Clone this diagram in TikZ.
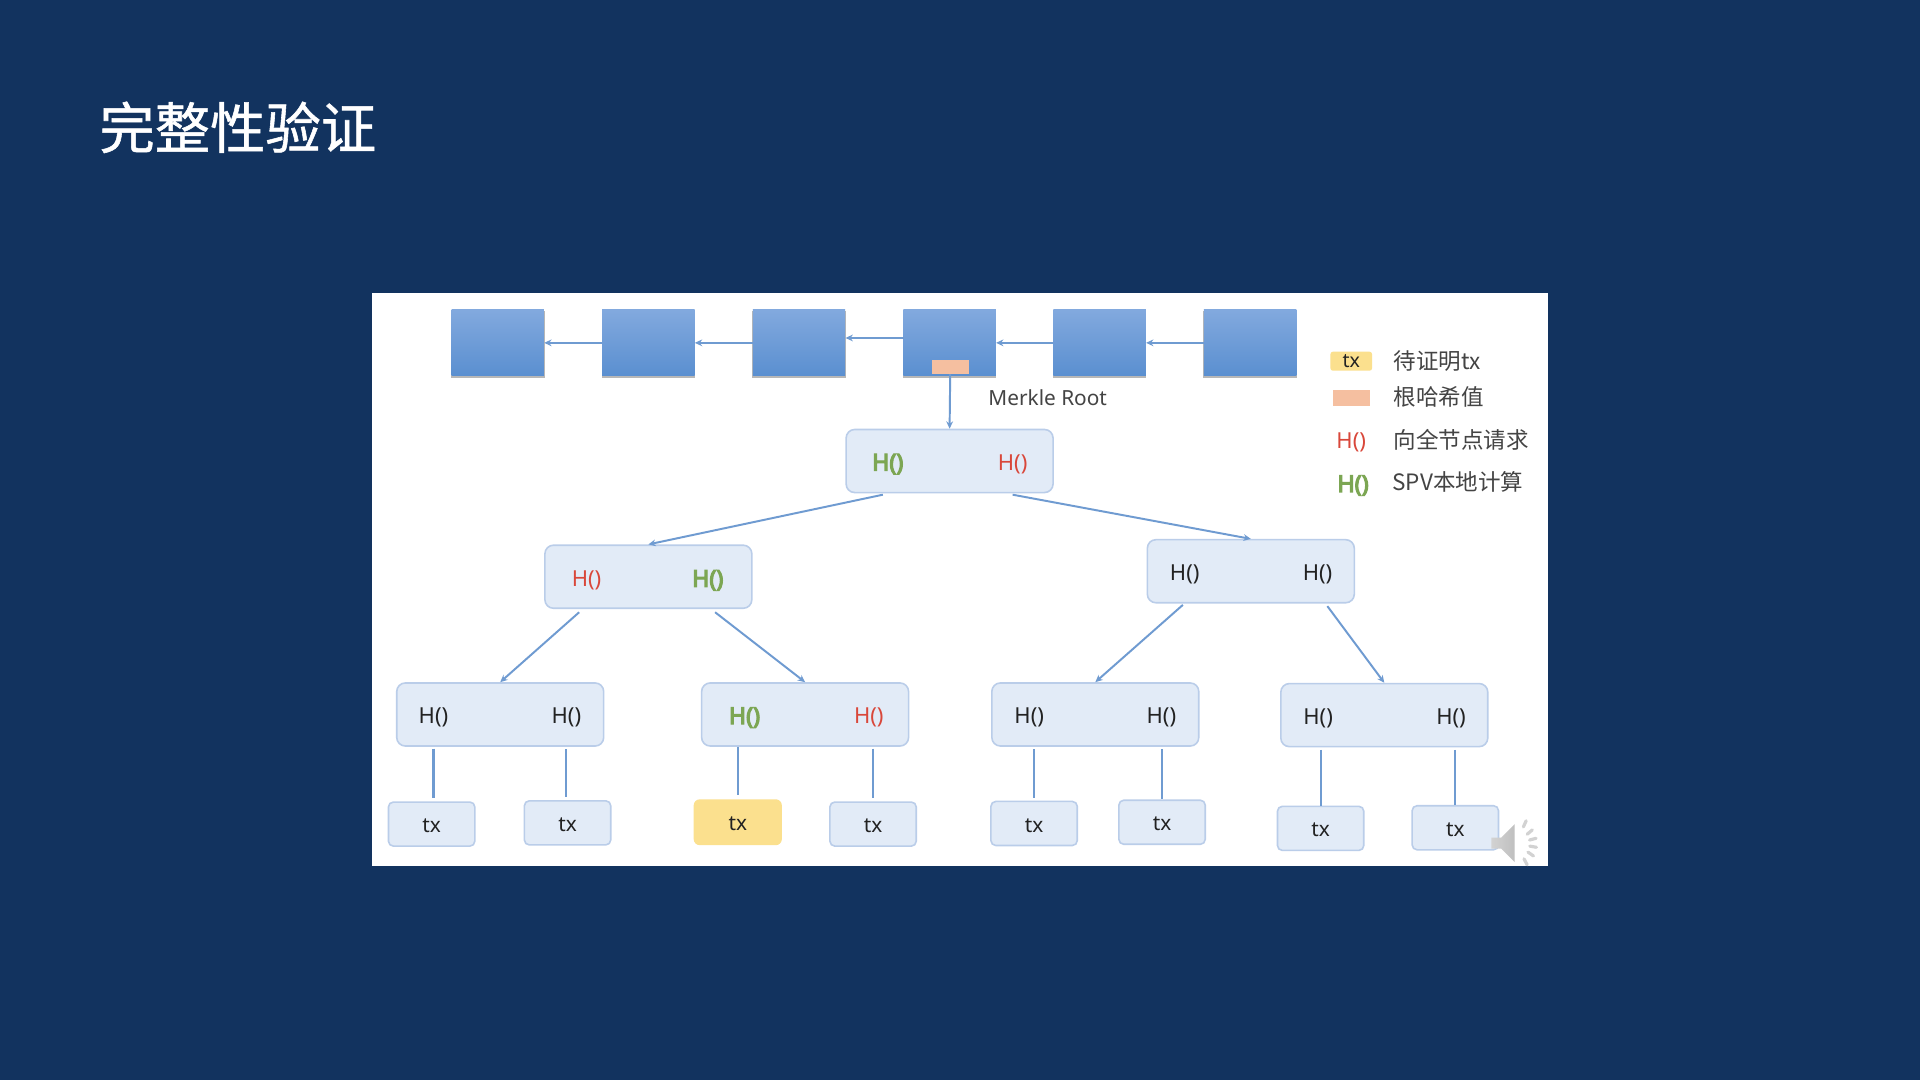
\documentclass[tikz,border=0pt]{standalone}
\usepackage{fontspec}
\setmainfont{Noto Sans}
\newfontfamily\cjk{Noto Sans CJK SC}
\newfontfamily\cjktitle[FakeBold=1]{Noto Sans CJK SC}
\newfontfamily\hbold[FakeBold=5]{Noto Sans}
\usetikzlibrary{arrows.meta,shadows}
\definecolor{bgnavy}{HTML}{12335F}
\definecolor{boxfill}{HTML}{E2EBF7}
\definecolor{boxline}{HTML}{BACDE9}
\definecolor{linkblue}{HTML}{6F9BD1}
\definecolor{hred}{HTML}{D9473A}
\definecolor{hgreen}{HTML}{7CA653}
\definecolor{txyellow}{HTML}{FBE08E}
\definecolor{rootorange}{HTML}{F5BFA0}
\definecolor{inktext}{HTML}{222222}
\definecolor{labeltext}{HTML}{444444}
\definecolor{blockA}{HTML}{82A9DE}
\definecolor{blockB}{HTML}{5A8FD0}
\tikzset{
  x=1pt,y=-1pt,
  chainblock/.style={rectangle,minimum width=75.5pt,minimum height=54pt,inner sep=0,
    top color=blockA,bottom color=blockB,
    general shadow={shadow yshift=-1.2pt,shadow scale=1.012,fill=black!70,opacity=.4}},
  hashbox/.style={rectangle,rounded corners=7pt,draw=boxline,line width=1.3pt,fill=boxfill,
    minimum width=169pt,minimum height=51.5pt,inner sep=0},
  txbox/.style={rectangle,rounded corners=4pt,draw=boxline,line width=1.3pt,fill=boxfill,
    minimum width=70.5pt,minimum height=36pt,inner sep=0,text=inktext,
    text height=14pt,text depth=0pt,font=\fontsize{17}{20}\selectfont},
  txgoal/.style={txbox,draw=none,fill=txyellow,rounded corners=5pt,minimum width=72pt,minimum height=37.5pt},
  hblack/.style={inner sep=0,yshift=-2pt,text=inktext,font=\fontsize{18}{22}\selectfont},
  hredtxt/.style={inner sep=0,yshift=-2pt,text=hred,font=\fontsize{18}{22}\selectfont},
  hgreentxt/.style={inner sep=0,yshift=-2pt,text=hgreen,font=\fontsize{19}{22}\selectfont\hbold},
  legendtxt/.style={inner sep=0,anchor=west,yshift=-0.5pt,text=labeltext,font=\fontsize{18.4}{22}\selectfont\cjk},
  arrowlink/.style={draw=linkblue,line width=1.6pt,-{Stealth[length=6pt,width=5.5pt]}},
  stem/.style={draw=linkblue,line width=1.7pt},
}
\begin{document}
\begin{tikzpicture}
\useasboundingbox (0,0) rectangle (1568,882);
\fill[bgnavy] (0,0) rectangle (1568,882);
\fill[white] (304,239) rectangle (1264,707);
\node[inner sep=0,anchor=west,text=white,font=\fontsize{45.2}{50}\selectfont\cjktitle] (title) at (81,104) {完整性验证};

% chain
\node[chainblock] (b1) at (406.5,280) {};
\node[chainblock] (b2) at (529.5,280) {};
\node[chainblock] (b3) at (652.5,280) {};
\node[chainblock] (b4) at (775.5,280) {};
\node[chainblock] (b5) at (898,280) {};
\node[chainblock] (b6) at (1021,280) {};
\node[rectangle,fill=rootorange,minimum width=30pt,minimum height=11.5pt,inner sep=0] (mr) at (776,299.5) {};
\coordinate (b4w) at (738,276);
\coordinate (b3e) at (690.5,276);
\draw[arrowlink] (b2.west) -- (b1.east);
\draw[arrowlink] (b3.west) -- (b2.east);
\draw[arrowlink] (b4w) -- (b3e);
\draw[arrowlink] (b5.west) -- (b4.east);
\draw[arrowlink] (b6.west) -- (b5.east);
\node[inner sep=0,anchor=west,yshift=-0.5pt,text=labeltext,font=\fontsize{17}{20}\selectfont] (mrl) at (807,324) {Merkle Root};

% hash boxes
\node[hashbox] (root) at (775.5,376.5) {};
\node[hashbox] (L) at (529.5,471) {};
\node[hashbox] (R) at (1021.5,466.5) {};
\node[hashbox] (A) at (408.5,583.5) {};
\node[hashbox] (B) at (657.5,583.5) {};
\node[hashbox] (C) at (894.5,583.5) {};
\node[hashbox] (D) at (1130.5,584) {};

\node[hgreentxt] (r1) at (725,377) {H()};
\node[hredtxt] (r2) at (827,377) {H()};
\node[hredtxt] (l1) at (479,472) {H()};
\node[hgreentxt] (l2) at (578,472) {H()};
\node[hblack] (s1) at (967.5,467) {H()};
\node[hblack] (s2) at (1076,467) {H()};
\node[hblack] (a1) at (354,584) {H()};
\node[hblack] (a2) at (462.5,584) {H()};
\node[hgreentxt] (b1h) at (608,584) {H()};
\node[hredtxt] (b2h) at (709.5,584) {H()};
\node[hblack] (c1) at (840.5,584) {H()};
\node[hblack] (c2) at (948.5,584) {H()};
\node[hblack] (d1) at (1076.5,584.5) {H()};
\node[hblack] (d2) at (1185,584.5) {H()};

% tx
\node[txbox] (t1) at (352.5,673) {tx};
\node[txbox] (t2) at (463.5,672) {tx};
\node[txgoal] (t3) at (602.5,671.5) {tx};
\node[txbox] (t4) at (713,673) {tx};
\node[txbox] (t5) at (844.5,672.5) {tx};
\node[txbox] (t6) at (949,671.5) {tx};
\node[txbox] (t7) at (1078.5,676.5) {tx};
\node[txbox] (t8) at (1188.5,676) {tx};

% connectors
\draw[arrowlink] (mr.south) -- (root.north);
\coordinate (rs1) at (721,404);
\coordinate (rs2) at (827,404);
\coordinate (ls1) at (473,500);
\coordinate (ls2) at (584,500);
\coordinate (ss1) at (966,494);
\coordinate (ss2) at (1084,495);
\draw[arrowlink] (rs1) -- (L.north);
\draw[arrowlink] (rs2) -- (R.north);
\draw[arrowlink] (ls1) -- (A.north);
\draw[arrowlink] (ls2) -- (B.north);
\draw[arrowlink] (ss1) -- (C.north);
\draw[arrowlink] (ss2) -- (D.north);
\draw[stem] ([yshift=-1.5pt]A.south -| a1) -- ([yshift=3pt]t1.north -| a1);
\draw[stem] ([yshift=-2pt]A.south -| a2) -- ([yshift=2.5pt]t2.north -| a2);
\draw[stem] (B.south -| t3.north) ++(0.5,0) -- ([yshift=3pt,xshift=.5pt]t3.north);
\draw[stem] ([yshift=-1.5pt]B.south -| t4) -- ([yshift=3pt]t4.north);
\draw[stem] ([yshift=-2pt]C.south -| t5) -- ([yshift=2pt]t5.north);
\draw[stem] ([yshift=-2pt]C.south -| t6) -- ([yshift=0pt]t6.north);
\draw[stem] ([yshift=-2pt]D.south -| t7) -- (t7.north);
\draw[stem] ([yshift=-2pt]D.south -| t8) -- (t8.north);

% legend
\node[rectangle,rounded corners=2pt,fill=txyellow,minimum width=34pt,minimum height=15.5pt,inner sep=0,text=inktext,font=\fontsize{16}{18}\selectfont] (kt) at (1103.5,295) {tx};
\node[legendtxt] (ktl) at (1138,294.5) {待证明tx};
\node[rectangle,fill=rootorange,minimum width=30pt,minimum height=12.5pt,inner sep=0] (kr) at (1104,325) {};
\node[legendtxt] (krl) at (1138,324) {根哈希值};
\node[hredtxt] (kh) at (1103.5,359.5) {H()};
\node[legendtxt] (khl) at (1138,358.5) {向全节点请求};
\node[hgreentxt] (kg) at (1105,394.5) {H()};
\node[legendtxt] (kgl) at (1137,393) {SPV本地计算};

% speaker icon
\shade[left color=gray!35,right color=gray!50]
  (1218,684) -- (1226,684) -- (1237,673) -- (1237,704) -- (1226,693) -- (1218,693) -- cycle;
\foreach \a/\rr in {-62/14,-35/12,-10/11.5,15/11.5,40/12,66/15}{
  \draw[gray!35,line width=2.6pt,line cap=round]
    (1238,689) ++({-\a}:{\rr}) -- ++({-\a}:5.5);
}
\end{tikzpicture}
\end{document}
